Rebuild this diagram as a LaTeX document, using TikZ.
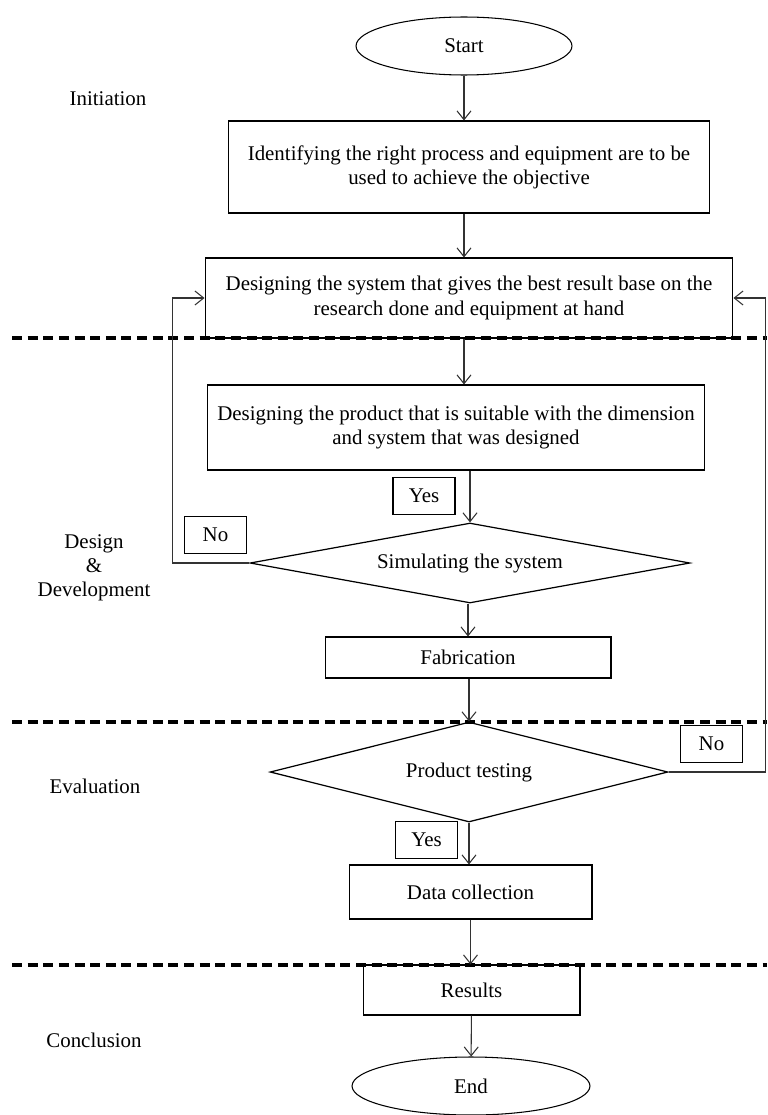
\documentclass[tikz,border=0pt]{standalone}
\usepackage{fontspec}
\setmainfont{Liberation Serif}
\usetikzlibrary{arrows.meta,shapes.geometric,positioning,calc}

\begin{document}
\begin{tikzpicture}[
    x=0.02cm,y=-0.02cm,
    font=\fontsize{11.9}{13.8}\selectfont,
    terminal/.style={draw,ellipse,line width=0.6pt,minimum width=#1,minimum height=1.16cm,inner sep=0pt},
    stepbox/.style={draw,rectangle,line width=0.6pt,minimum width=#1,align=center,inner sep=0pt},
    decision/.style={draw,diamond,line width=0.7pt,inner sep=0pt},
    tag/.style={draw,rectangle,line width=0.6pt,minimum width=1.24cm,minimum height=0.74cm,inner sep=0pt},
    stage/.style={align=center},
    arr/.style={-{Straight Barb[length=5pt,width=8pt]},line width=0.6pt,draw=black!80},
    sep/.style={line width=1.9pt,dash pattern=on 5.7pt off 3.2pt}
  ]
    \useasboundingbox (0,0) rectangle (767,1115);

    % Flow nodes
    \node[terminal=4.32cm] (start) at (464,46) {Start};
    \node[stepbox=9.64cm,minimum height=1.84cm] (ident) at (469,167) {Identifying the right process and equipment are to be\\used to achieve the objective};
    \node[stepbox=10.56cm,minimum height=1.6cm] (sysdes) at (469,298) {Designing the system that gives the best result base on the\\research done and equipment at hand};
    \node[stepbox=9.96cm,minimum height=1.7cm] (proddes) at (456,427.5) {Designing the product that is suitable with the dimension\\and system that was designed};
    \node[decision,minimum width=8.8cm,minimum height=1.6cm,aspect=5.5] (sim) at (470,563) {Simulating the system};
    \node[stepbox=5.72cm,minimum height=0.82cm] (fab) at (468,657.5) {Fabrication};
    \node[decision,minimum width=7.96cm,minimum height=2.0cm,aspect=3.98] (test) at (469,772) {Product testing};
    \node[stepbox=4.86cm,minimum height=1.08cm] (data) at (470.5,892) {Data collection};
    \node[stepbox=4.34cm,minimum height=1.0cm] (res) at (471.5,990) {Results};
    \node[terminal=4.76cm] (end) at (471,1086) {End};

    % Yes / No tags
    \node[tag] (yes1) at (424,496) {Yes};
    \node[tag] (no1) at (215.5,535) {No};
    \node[tag] (no2) at (711.5,744) {No};
    \node[tag] (yes2) at (426.5,840) {Yes};

    % Stage names
    \node[stage] (init) at (108,99) {Initiation};
    \node[stage] (dev) at (94,568) {Design\\\&\\Development};
    \node[stage] (eval) at (95,786) {Evaluation};
    \node[stage] (concl) at (94,1040) {Conclusion};

    % Stage separators
    \draw[sep] (12,338) -- (767,338);
    \draw[sep] (12,722) -- (767,722);
    \draw[sep] (12,965) -- (767,965);

    % Arrows
    \draw[arr] (start) -- (start |- ident.north);
    \draw[arr] (start |- ident.south) -- (start |- sysdes.north);
    \draw[arr] (start |- sysdes.south) -- (start |- proddes.north);
    \draw[arr] (sim.north |- proddes.south) -- (sim.north);
    \draw[arr] (fab.north |- sim.south) -- (fab.north);
    \draw[arr] (test.north |- fab.south) -- (test.north);
    \draw[arr] (test.south) -- (test.south |- data.north);
    \draw[arr] (data) -- (data |- res.north);
    \draw[arr] (res) -- (end);

    % Feedback loops
    \draw[arr] (sim.west) -- ++(-77,0) |- (sysdes.west);
    \draw[arr] (test.east) -- ++(97,0) |- (sysdes.east);
  \end{tikzpicture}
\end{document}
